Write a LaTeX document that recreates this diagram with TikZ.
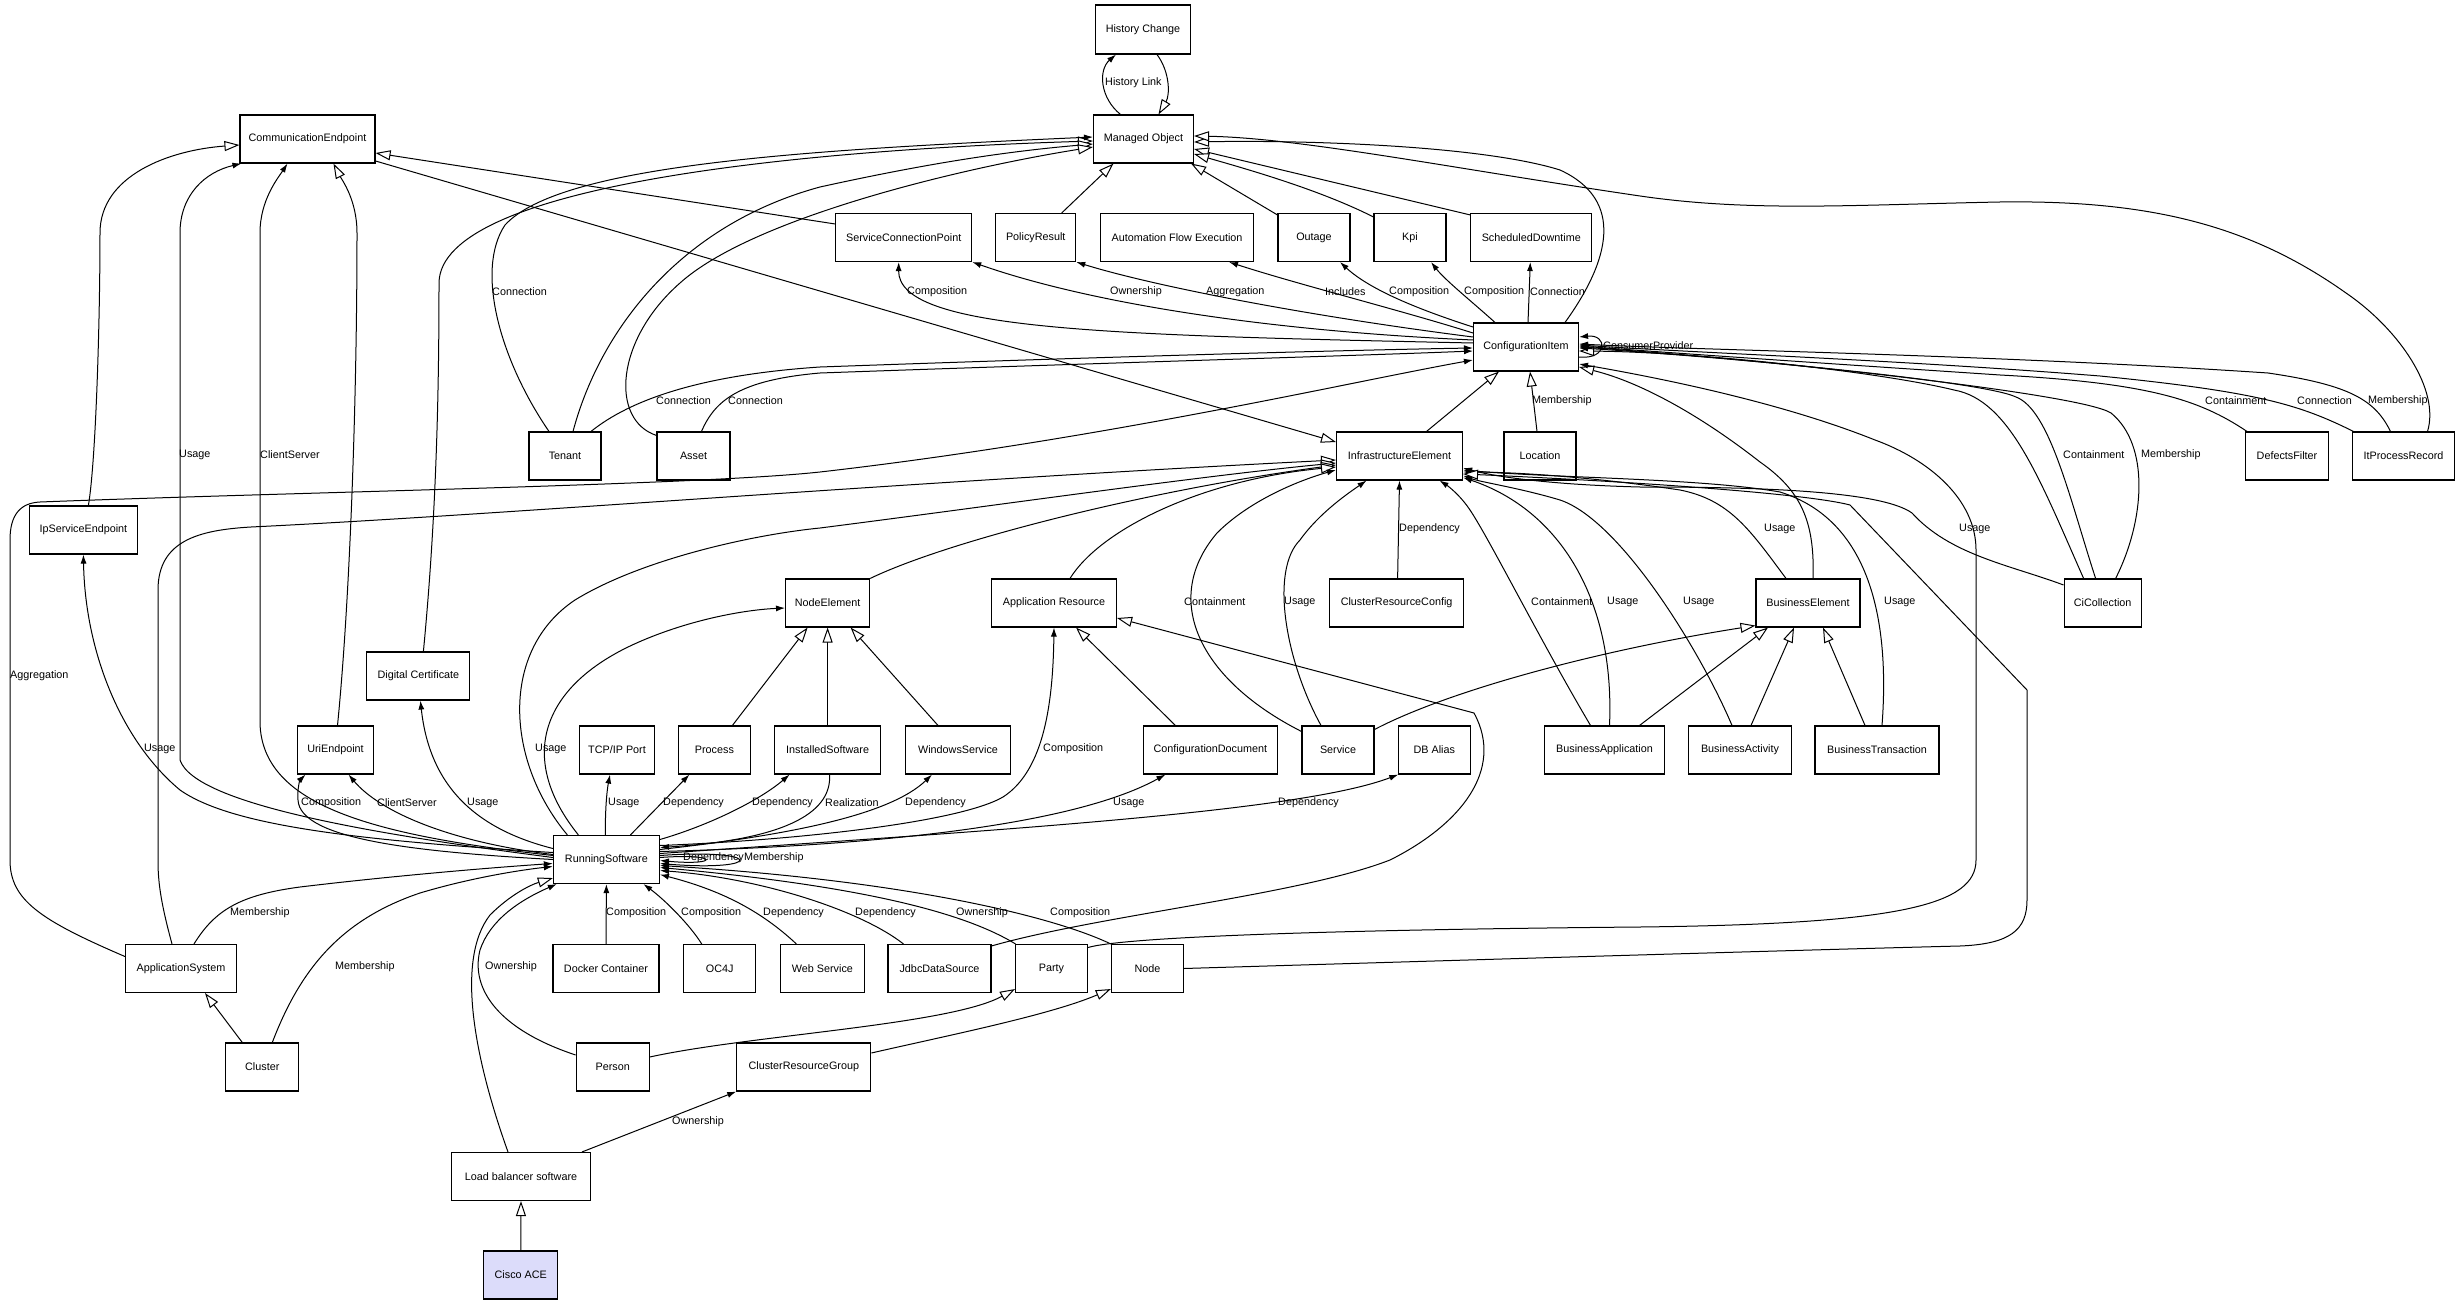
\documentclass[tikz,border=0pt]{standalone}
\usepackage{fontspec}
\setmainfont{Liberation Sans}
\usetikzlibrary{arrows.meta}
\definecolor{ciscofill}{RGB}{220,220,250}
\begin{document}
\begin{tikzpicture}[x=1pt,y=-1pt,
  box/.style={draw=black, line width=1.1pt, fill=white, minimum height=48pt, inner sep=1pt, font=\fontsize{10.8}{13}\selectfont},
  lbl/.style={inner sep=0pt, anchor=west, font=\fontsize{10.8}{13}\selectfont},
  assoc/.style={draw=black, line width=1pt, -{Latex[length=9pt,width=6pt]}},
  gen/.style={draw=black, line width=1pt, -{Triangle[open,length=15pt,width=10pt,fill=white]}}]
\fill[white] (0,0) rectangle (2464,1305);
\useasboundingbox (0,0) rectangle (2464,1305);
% nodes
\node[box, minimum width=95pt, minimum height=49pt] (hc) at (1143,29.5) {History Change};
\node[box, minimum width=100pt] (mo) at (1143.5,139) {Managed Object};
\node[box, minimum width=135pt] (ce) at (307.5,139) {CommunicationEndpoint};
\node[box, minimum width=136pt] (scp) at (903.7,237.5) {ServiceConnectionPoint};
\node[box, minimum width=80pt] (pr) at (1035.7,237.5) {PolicyResult};
\node[box, minimum width=153pt] (afe) at (1177,237.5) {Automation Flow Execution};
\node[box, minimum width=72pt] (outg) at (1314,237.5) {Outage};
\node[box, minimum width=72pt] (kpi) at (1410,237.5) {Kpi};
\node[box, minimum width=121pt] (sd) at (1531.3,237.5) {ScheduledDowntime};
\node[box, minimum width=105pt] (ci) at (1526,347) {ConfigurationItem};
\node[box, minimum width=72pt] (ten) at (565,456) {Tenant};
\node[box, minimum width=73pt] (ast) at (693.5,456) {Asset};
\node[box, minimum width=126pt] (ie) at (1399.5,456) {InfrastructureElement};
\node[box, minimum width=72pt] (loc) at (1540,456) {Location};
\node[box, minimum width=83pt] (df) at (2287,456) {DefectsFilter};
\node[box, minimum width=102pt] (ipr) at (2403.5,456) {ItProcessRecord};
\node[box, minimum width=108pt] (ipse) at (83.4,530) {IpServiceEndpoint};
\node[box, minimum width=84pt] (ne) at (827.6,603) {NodeElement};
\node[box, minimum width=125pt] (ar) at (1054,603) {Application Resource};
\node[box, minimum width=134pt] (crc) at (1396.6,603) {ClusterResourceConfig};
\node[box, minimum width=104pt] (be) at (1808,603) {BusinessElement};
\node[box, minimum width=77pt] (cic) at (2102.6,603) {CiCollection};
\node[box, minimum width=103pt] (dc) at (418.4,676) {Digital Certificate};
\node[box, minimum width=76pt] (uri) at (335.5,750) {UriEndpoint};
\node[box, minimum width=75pt] (tcp) at (617,750) {TCP/IP Port};
\node[box, minimum width=72pt] (proc) at (714.4,750) {Process};
\node[box, minimum width=106pt] (is) at (827.6,750) {InstalledSoftware};
\node[box, minimum width=105pt] (ws) at (958,750) {WindowsService};
\node[box, minimum width=134pt] (cd) at (1210.4,750) {ConfigurationDocument};
\node[box, minimum width=72pt] (svc) at (1338,750) {Service};
\node[box, minimum width=72pt] (dba) at (1434.3,750) {DB Alias};
\node[box, minimum width=120pt] (bapp) at (1604.5,750) {BusinessApplication};
\node[box, minimum width=103pt] (bact) at (1740,750) {BusinessActivity};
\node[box, minimum width=124pt] (btx) at (1877,750) {BusinessTransaction};
\node[box, minimum width=106pt] (rs) at (606.4,859.5) {RunningSoftware};
\node[box, minimum width=111pt] (as) at (181,968.5) {ApplicationSystem};
\node[box, minimum width=106pt] (dock) at (606,968.5) {Docker Container};
\node[box, minimum width=72pt] (oc4j) at (719.7,968.5) {OC4J};
\node[box, minimum width=84pt] (wsvc) at (822.4,968.5) {Web Service};
\node[box, minimum width=103pt] (jds) at (939.5,968.5) {JdbcDataSource};
\node[box, minimum width=72pt] (party) at (1051.5,968.5) {Party};
\node[box, minimum width=72pt] (nd) at (1147.4,968.5) {Node};
\node[box, minimum width=73pt] (clu) at (262.3,1067) {Cluster};
\node[box, minimum width=73pt] (per) at (612.7,1067) {Person};
\node[box, minimum width=134pt] (crg) at (803.8,1067) {ClusterResourceGroup};
\node[box, minimum width=139pt] (lb) at (521,1176.5) {Load balancer software};
\node[box, minimum width=74pt, fill=ciscofill] (cisco) at (520.8,1275) {Cisco ACE};
% history
\draw[assoc] ([xshift=-23pt]mo.north) .. controls (1100,98) and (1098,70) .. ([xshift=-27pt]hc.south);
\draw[gen] ([xshift=14pt]hc.south) .. controls (1170,72) and (1170,95) .. ([xshift=15pt]mo.north);
% communication endpoint
\draw[gen] ([xshift=5pt]ipse.north) .. controls (96,460) and (100,320) .. (100,233) .. controls (100,175) and (170,150) .. ([yshift=-6pt]ce.west);
\draw[assoc] ([yshift=2pt]rs.west) .. controls (380,835) and (195,805) .. (180,760) -- (180,233) .. controls (180,195) and (205,172) .. ([xshift=2pt]ce.south west);
\draw[assoc] ([yshift=4pt]rs.west) .. controls (370,835) and (262,805) .. (260,723) -- (260,233) .. controls (260,200) and (278,178) .. ([xshift=-20pt]ce.south);
\draw[gen] ([xshift=2pt]uri.north) .. controls (350,600) and (357,400) .. (357,233) .. controls (357,200) and (342,180) .. ([xshift=26pt]ce.south);
\draw[gen] ([yshift=13.5pt]scp.west) -- ([yshift=-14pt]ce.east);
\draw[gen] ([yshift=-22pt]ce.east) -- ([yshift=14pt]ie.west);
% managed object generalizations
\draw[gen] ([xshift=39pt]ci.north) .. controls (1610,260) and (1625,200) .. (1560,170) .. controls (1480,145) and (1300,140) .. ([yshift=-3pt]mo.east);
\draw[gen] ([yshift=-2pt]sd.north west) -- ([yshift=-10pt]mo.east);
\draw[gen] ([yshift=-4pt]kpi.north west) .. controls (1320,190) and (1250,170) .. ([yshift=-15pt]mo.east);
\draw[gen] ([yshift=-2pt]outg.north west) -- ([xshift=-3pt]mo.south east);
\draw[gen] ([xshift=26pt]pr.north) -- ([xshift=-30pt]mo.south);
\draw[gen] ([xshift=24pt]ipr.north) .. controls (2440,390) and (2400,330) .. (2346,293) .. controls (2250,225) and (2150,200) .. (2000,202) .. controls (1850,205) and (1750,212) .. (1640,196) .. controls (1450,168) and (1300,138) .. ([yshift=3pt]mo.east);
\draw[gen] ([xshift=5pt]dc.north) .. controls (436,520) and (439,400) .. (439,283) .. controls (440,185) and (800,150) .. ([yshift=-2pt]mo.west);
\draw[gen] ([xshift=8pt]ten.north) .. controls (600,330) and (680,225) .. (820,187) .. controls (920,165) and (1000,152) .. ([yshift=-5pt]mo.west);
\draw[assoc] ([xshift=-16pt]ten.north) .. controls (500,360) and (475,270) .. (505,225) .. controls (560,165) and (800,150) .. ([yshift=2pt]mo.west);
\draw[gen] ([yshift=-4pt]ast.north west) .. controls (610,420) and (615,340) .. (680,283) .. controls (750,220) and (950,170) .. ([yshift=-8pt]mo.west);
% configuration item outgoing
\draw[assoc] ([yshift=4pt]ci.west) .. controls (1100,335) and (898,330) .. ([xshift=-5pt]scp.south);
\draw[assoc] ([yshift=7pt]ci.west) .. controls (1250,330) and (1080,300) .. (scp.south east);
\draw[assoc] ([yshift=10pt]ci.west) .. controls (1300,315) and (1150,285) .. (pr.south east);
\draw[assoc] ([yshift=14pt]ci.west) .. controls (1400,310) and (1300,285) .. ([xshift=52pt]afe.south);
\draw[assoc] ([yshift=20pt]ci.west) .. controls (1420,310) and (1370,290) .. ([xshift=26pt]outg.south);
\draw[assoc] ([xshift=-31pt]ci.north) .. controls (1470,300) and (1445,280) .. ([xshift=21pt]kpi.south);
\draw[assoc] ([xshift=2pt]ci.north) -- ([xshift=-1pt]sd.south);
\draw[assoc] ([yshift=-10pt]ci.east) .. controls (1608,360) and (1608,334) .. ([yshift=10pt]ci.east);
% configuration item incoming
\draw[assoc] ([xshift=26pt]ten.north) .. controls (630,400) and (700,375) .. (820,367) .. controls (1100,357) and (1350,350) .. ([yshift=-1pt]ci.west);
\draw[assoc] ([xshift=8pt]ast.north) .. controls (715,400) and (740,380) .. (820,373) .. controls (1100,363) and (1350,356) .. ([yshift=-4pt]ci.west);
\draw[assoc] ([yshift=12pt]as.west) .. controls (40,920) and (10,900) .. (10,860) -- (10,540) .. controls (10,515) and (20,503) .. (40,502) .. controls (300,492) and (700,485) .. (820,472) .. controls (1100,440) and (1350,382) .. ([yshift=-13pt]ci.west);
\draw[gen] ([xshift=27pt]ie.north) -- ([xshift=-27pt]ci.south);
\draw[gen] ([xshift=-3pt]loc.north) -- ([xshift=4pt]ci.south);
\draw[gen] ([xshift=5pt]be.north) .. controls (1815,520) and (1800,490) .. (1760,462) .. controls (1700,415) and (1640,382) .. ([yshift=-20pt]ci.east);
\draw[gen] ([xshift=-19pt]cic.north) .. controls (2040,480) and (2010,400) .. (1954,390) .. controls (1880,372) and (1700,352) .. ([yshift=-4pt]ci.east);
\draw[assoc] ([xshift=-7pt]cic.north) .. controls (2070,500) and (2050,410) .. (2016,397) .. controls (1980,380) and (1700,355) .. ([yshift=-1pt]ci.east);
\draw[assoc] ([xshift=13pt]cic.north) .. controls (2145,520) and (2150,445) .. (2111,413) .. controls (2080,393) and (1750,358) .. (ci.east);
\draw[assoc] ([xshift=-40pt]df.north) .. controls (2200,400) and (2150,383) .. (2000,375) .. controls (1850,365) and (1700,355) .. ([yshift=1pt]ci.east);
\draw[assoc] ([xshift=-50pt]ipr.north) .. controls (2300,405) and (2260,392) .. (2100,376) .. controls (1900,360) and (1700,353) .. ([yshift=2pt]ci.east);
\draw[assoc] ([xshift=-13pt]ipr.north) .. controls (2375,400) and (2350,385) .. (2268,373) .. controls (2000,355) and (1700,350) .. ([yshift=3pt]ci.east);
\draw[assoc] ([yshift=21pt]party.east) .. controls (1120,938) and (1300,930) .. (1640,927) .. controls (1900,924) and (1976,905) .. (1976,860) -- (1976,550) .. controls (1976,500) and (1930,460) .. (1875,440) .. controls (1780,402) and (1660,378) .. ([yshift=-17pt]ci.east);
% infrastructure element incoming
\draw[gen] ([xshift=-9pt]as.north) .. controls (160,900) and (158,880) .. (158,860) -- (158,590) .. controls (158,540) and (200,530) .. (251,527) .. controls (500,515) and (900,482) .. ([yshift=-4pt]ie.west);
\draw[gen] ([xshift=-39pt]rs.north) .. controls (505,760) and (500,650) .. (575,600) .. controls (640,560) and (750,535) .. (820,528) .. controls (1000,505) and (1200,476) .. ([yshift=-7pt]ie.west);
\draw[gen] (ne.north east) .. controls (950,540) and (1150,490) .. ([yshift=-9pt]ie.west);
\draw[gen] ([xshift=16pt]ar.north) .. controls (1100,530) and (1200,480) .. ([yshift=-11pt]ie.west);
\draw[assoc] ([yshift=-6pt]svc.north west) .. controls (1200,680) and (1160,600) .. (1217,533) .. controls (1250,500) and (1300,480) .. ([yshift=-14pt]ie.west);
\draw[assoc] ([xshift=-17pt]svc.north) .. controls (1285,660) and (1270,570) .. (1300,540) .. controls (1320,512) and (1350,492) .. ([xshift=-33pt]ie.south);
\draw[assoc] ([xshift=1pt]crc.north) -- (ie.south);
\draw[assoc] ([xshift=-14pt]bapp.north) .. controls (1540,640) and (1490,540) .. (1470,510) .. controls (1460,495) and (1448,486) .. ([xshift=40pt]ie.south);
\draw[assoc] ([xshift=5pt]bapp.north) .. controls (1615,600) and (1560,510) .. ([yshift=3pt]ie.south east);
\draw[assoc] ([xshift=-8pt]bact.north) .. controls (1700,650) and (1620,520) .. (1560,500) .. controls (1520,488) and (1480,482) .. ([yshift=5pt]ie.south east);
\draw[assoc] ([xshift=5pt]btx.north) .. controls (1890,620) and (1870,520) .. (1780,492) .. controls (1700,478) and (1550,478) .. ([yshift=-14pt]ie.east);
\draw[assoc] ([xshift=-22pt]be.north) .. controls (1750,530) and (1730,500) .. (1680,490) .. controls (1600,478) and (1520,472) .. ([yshift=-16pt]ie.east);
\draw[assoc] ([yshift=18pt]cic.west) .. controls (2010,565) and (1950,555) .. (1912,513) .. controls (1880,490) and (1750,487) .. (1640,487) .. controls (1560,485) and (1500,478) .. ([yshift=-12pt]ie.east);
\draw[gen] (nd.east) .. controls (1400,962) and (1800,950) .. (1960,946) .. controls (2010,944) and (2027,930) .. (2027,900) -- (2027,690) -- (1850,505) .. controls (1800,492) and (1600,480) .. ([yshift=-18pt]ie.east);
% business element generalizations
\draw[gen] ([yshift=-4pt]svc.north east) .. controls (1450,690) and (1600,650) .. ([yshift=2pt]be.south west);
\draw[gen] ([xshift=35pt]bapp.north) -- ([xshift=-40pt]be.south);
\draw[gen] ([xshift=11pt]bact.north) -- ([xshift=-14pt]be.south);
\draw[gen] ([xshift=-12pt]btx.north) -- ([xshift=15pt]be.south);
% application resource
\draw[gen] ([yshift=-2pt]jds.north east) .. controls (1100,915) and (1300,895) .. (1390,860) .. controls (1460,825) and (1505,770) .. (1474,713) -- ([yshift=-15pt]ar.east);
\draw[gen] ([xshift=-35pt]cd.north) -- ([xshift=22pt]ar.south);
\draw[assoc] ([yshift=14pt]rs.east) .. controls (800,840) and (960,822) .. (1003,797) .. controls (1045,770) and (1053,700) .. (ar.south);
% node element
\draw[gen] ([xshift=18pt]proc.north) -- ([xshift=-20pt]ne.south);
\draw[gen] (is.north) -- (ne.south);
\draw[gen] ([xshift=-20pt]ws.north) -- ([xshift=23pt]ne.south);
\draw[assoc] ([xshift=-28pt]rs.north) .. controls (518,760) and (540,690) .. (628,647) .. controls (680,622) and (740,610) .. ([yshift=-5pt]ne.west);
% running software outgoing
\draw[assoc] ([yshift=7pt]rs.west) .. controls (350,840) and (230,825) .. (180,790) .. controls (120,740) and (85,650) .. (ipse.south);
\draw[assoc] (rs.west) .. controls (420,852) and (300,840) .. (298,800) .. controls (297,790) and (300,780) .. ([xshift=-30pt]uri.south);
\draw[assoc] ([yshift=5pt]rs.west) .. controls (450,842) and (380,812) .. ([xshift=13pt]uri.south);
\draw[assoc] ([yshift=11pt]rs.west) .. controls (480,830) and (430,790) .. ([xshift=2pt]dc.south);
\draw[assoc] ([xshift=-1pt]rs.north) .. controls (605,810) and (607,790) .. ([xshift=-7pt]tcp.south);
\draw[assoc] ([xshift=24pt]rs.north) -- ([xshift=-25pt]proc.south);
\draw[assoc] ([yshift=20pt]rs.east) .. controls (710,825) and (760,800) .. ([xshift=-38pt]is.south);
\draw[assoc] ([xshift=2pt]is.south) .. controls (832,815) and (780,840) .. ([yshift=12pt]rs.east);
\draw[assoc] ([yshift=10pt]rs.east) .. controls (790,835) and (890,815) .. ([xshift=-26pt]ws.south);
\draw[assoc] ([yshift=8pt]rs.east) .. controls (900,845) and (1080,822) .. ([xshift=-45pt]cd.south);
\draw[assoc] ([yshift=6pt]rs.east) .. controls (1000,830) and (1300,812) .. ([xshift=-36pt]dba.south);
\draw[assoc] ([yshift=4pt]rs.east) .. controls (765,848) and (765,872) .. ([yshift=-4pt]rs.east);
\draw[assoc] ([yshift=2pt]rs.east) .. controls (720,853) and (720,866) .. ([yshift=-1pt]rs.east);
% running software incoming
\draw[assoc] ([xshift=13pt]as.north) .. controls (215,910) and (240,895) .. (300,887) .. controls (400,875) and (500,867) .. ([yshift=-4pt]rs.west);
\draw[assoc] ([xshift=10pt]clu.north) .. controls (300,970) and (340,920) .. (420,893) .. controls (470,878) and (520,870) .. ([yshift=-7pt]rs.west);
\draw[gen] ([xshift=-13pt]lb.north) .. controls (475,1060) and (455,960) .. (490,915) .. controls (510,895) and (530,885) .. ([yshift=6pt]rs.south west);
\draw[assoc] ([yshift=12pt]per.west) .. controls (500,1030) and (470,990) .. (480,950) .. controls (490,920) and (520,900) .. ([xshift=4pt]rs.south west);
\draw[assoc] (dock.north) -- (rs.south);
\draw[assoc] ([xshift=-18pt]oc4j.north) .. controls (690,925) and (665,900) .. ([xshift=37pt]rs.south);
\draw[assoc] ([xshift=-26pt]wsvc.north) .. controls (760,910) and (720,890) .. ([yshift=-15pt]rs.east);
\draw[assoc] ([xshift=-36pt]jds.north) .. controls (860,910) and (760,878) .. ([yshift=-11pt]rs.east);
\draw[assoc] ([xshift=-36pt]party.north) .. controls (960,910) and (850,885) .. ([yshift=-8pt]rs.east);
\draw[assoc] (nd.north west) .. controls (1050,915) and (900,880) .. ([yshift=-6pt]rs.east);
% others
\draw[gen] ([yshift=10pt]per.east) .. controls (750,1035) and (950,1025) .. ([yshift=4pt]party.south west);
\draw[gen] ([yshift=14pt]crg.east) .. controls (950,1035) and (1050,1015) .. ([yshift=4pt]nd.south west);
\draw[assoc] ([xshift=61pt]lb.north) -- (crg.south west);
\draw[gen] ([xshift=-20pt]clu.north) -- ([xshift=24pt]as.south);
\draw[gen] (cisco.north) -- (lb.south);
% labels
\node[lbl] (l01) at (1105,83) {History Link};
\node[lbl] (l02) at (492,292) {Connection};
\node[lbl] (l03) at (907,292) {Composition};
\node[lbl] (l04) at (1110,292) {Ownership};
\node[lbl] (l05) at (1206,292) {Aggregation};
\node[lbl] (l06) at (1325,292) {Includes};
\node[lbl] (l07) at (1389,292) {Composition};
\node[lbl] (l08) at (1464,292) {Composition};
\node[lbl] (l09) at (1530,292) {Connection};
\node[lbl] (l10) at (1603,346) {ConsumerProvider};
\node[lbl] (l11) at (656,401) {Connection};
\node[lbl] (l12) at (728,401) {Connection};
\node[lbl] (l13) at (1532,401) {Membership};
\node[lbl] (l14) at (2205,401) {Containment};
\node[lbl] (l15) at (2297,401) {Connection};
\node[lbl] (l16) at (2368,401) {Membership};
\node[lbl] (l17) at (179,455) {Usage};
\node[lbl] (l18) at (260,455) {ClientServer};
\node[lbl] (l19) at (2063,455) {Containment};
\node[lbl] (l20) at (2141,455) {Membership};
\node[lbl] (l21) at (1399,529) {Dependency};
\node[lbl] (l22) at (1764,529) {Usage};
\node[lbl] (l23) at (1959,529) {Usage};
\node[lbl] (l24) at (1184,602) {Containment};
\node[lbl] (l25) at (1284,602) {Usage};
\node[lbl] (l26) at (1531,602) {Containment};
\node[lbl] (l27) at (1607,602) {Usage};
\node[lbl] (l28) at (1683,602) {Usage};
\node[lbl] (l29) at (1884,602) {Usage};
\node[lbl] (l30) at (10,676) {Aggregation};
\node[lbl] (l31) at (144,749) {Usage};
\node[lbl] (l32) at (535,749) {Usage};
\node[lbl] (l33) at (1043,749) {Composition};
\node[lbl] (l34) at (301,803) {Composition};
\node[lbl] (l35) at (377,803) {ClientServer};
\node[lbl] (l36) at (467,803) {Usage};
\node[lbl] (l37) at (608,803) {Usage};
\node[lbl] (l38) at (663,803) {Dependency};
\node[lbl] (l39) at (752,803) {Dependency};
\node[lbl] (l40) at (825,803) {Realization};
\node[lbl] (l41) at (905,803) {Dependency};
\node[lbl] (l42) at (1113,803) {Usage};
\node[lbl] (l43) at (1278,803) {Dependency};
\node[lbl] (l44) at (683,858) {Dependency};
\node[lbl] (l45) at (744,858) {Membership};
\node[lbl] (l46) at (230,913) {Membership};
\node[lbl] (l47) at (606,913) {Composition};
\node[lbl] (l48) at (681,913) {Composition};
\node[lbl] (l49) at (763,913) {Dependency};
\node[lbl] (l50) at (855,913) {Dependency};
\node[lbl] (l51) at (956,913) {Ownership};
\node[lbl] (l52) at (1050,913) {Composition};
\node[lbl] (l53) at (335,967) {Membership};
\node[lbl] (l54) at (485,967) {Ownership};
\node[lbl] (l55) at (672,1122) {Ownership};
\end{tikzpicture}
\end{document}
